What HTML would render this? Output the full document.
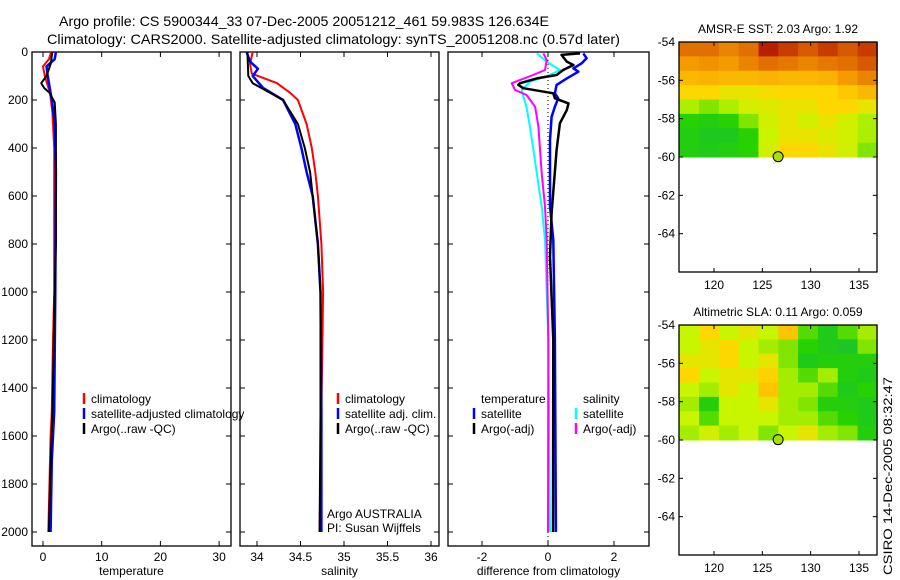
<!DOCTYPE html>
<html><head><meta charset="utf-8"><style>
html,body{margin:0;padding:0;background:#fff;}
svg{display:block;font-family:"Liberation Sans",sans-serif;}
text{font-size:12px;fill:#000;}
</style></head><body>
<svg id="chart" width="900" height="580" viewBox="0 0 900 580" xmlns="http://www.w3.org/2000/svg">
<text x="59" y="26" style="font-size:14px" textLength="490" lengthAdjust="spacingAndGlyphs">Argo profile: CS 5900344_33 07-Dec-2005 20051212_461 59.983S 126.634E</text>
<text x="47" y="44" style="font-size:14px" textLength="573" lengthAdjust="spacingAndGlyphs">Climatology: CARS2000. Satellite-adjusted climatology: synTS_20051208.nc (0.57d later)</text>
<g id="plots"></g>
<text transform="translate(892,575) rotate(-90)" style="font-size:12px" textLength="198" lengthAdjust="spacingAndGlyphs">CSIRO 14-Dec-2005 08:32:47</text>
</svg>
<script>
// ---- data ----
const depthTicks = [0,200,400,600,800,1000,1200,1400,1600,1800,2000];
const tempTicks = [0,10,20,30];
const salTicks = [34,34.5,35,35.5,36];
const diffTicks = [-2,0,2];
const tClimD = [0,30,60,100,140,170,250,400,1000,1200,1500,1600,1900,2000];
const tClimV = [1.4,1.0,0.0,0.3,0.8,1.2,1.6,1.9,1.9,1.7,1.5,1.3,1.0,0.9];
const tSatD = [0,30,60,100,200,300,500,1000,1500,1700,2000];
const tSatV = [2.2,2.0,0.6,0.8,1.5,2.0,2.2,2.1,1.9,1.5,1.3];
const tArgoD = [0,50,100,130,150,170,210,300,800,1000,1500,1800,2000];
const tArgoV = [1.6,1.3,0.6,-0.3,0.2,1.1,2.0,2.2,2.2,2.0,1.6,1.2,1.0];
const sClimD = [0,50,90,130,170,200,300,400,500,600,800,1000,1500,2000];
const sClimV = [33.95,33.92,33.94,34.23,34.38,34.47,34.57,34.63,34.67,34.70,34.74,34.76,34.74,34.72];
const sSatD = [0,40,70,100,150,200,300,400,500,600,800,1000,1500,2000];
const sSatV = [33.88,33.92,34.01,33.95,34.07,34.30,34.44,34.51,34.57,34.64,34.70,34.73,34.74,34.74];
const sArgoD = [0,100,130,160,200,300,400,500,600,800,1000,1500,2000];
const sArgoV = [33.89,33.90,33.95,34.10,34.30,34.47,34.55,34.61,34.64,34.70,34.73,34.73,34.72];
const dTArgoD = [6,12,40,54,75,96,110,130,137,151,172,193,214,242,297,408,671,853,1200,2000];
const dTArgoV = [0.97,0.41,0.57,0.77,0.46,0.26,-0.34,-0.85,-0.9,-0.75,0.16,0.21,0.62,0.57,0.36,0.26,0.11,0.06,0.16,0.15];
const dTSatD = [6,26,47,68,82,110,137,172,193,228,270,367,644,783,1200,2000];
const dTSatV = [1.07,1.17,1.02,0.77,0.92,0.57,0.26,0.21,0.31,0.21,0.11,0.06,0.06,0.16,0.21,0.24];
const dSSatD = [6,40,75,96,124,158,186,228,311,506,644,783,1200,2000];
const dSSatV = [-0.34,-0.04,0.36,0.06,-0.55,-0.8,-0.75,-0.65,-0.55,-0.34,-0.19,-0.09,0.01,0.06];
const dSArgoD = [6,33,75,96,130,158,179,228,311,506,644,783,1200,2000];
const dSArgoV = [-0.14,-0.04,-0.09,-0.45,-1.1,-1.0,-0.65,-0.39,-0.29,-0.19,-0.09,-0.04,0.01,0.0];
const latTicks = [-54,-56,-58,-60,-62,-64];
const lonTicks = [120,125,130,135];
const sstGrid = [
[.8,.8,.75,.8,.95,.9,.85,.9,.85,.9],
[.7,.72,.7,.75,.8,.78,.75,.78,.8,.85],
[.6,.62,.6,.6,.62,.6,.6,.62,.7,.75],
[.5,.5,.45,.45,.48,.5,.5,.5,.55,.6],
[.35,.3,.35,.4,.42,.45,.45,.5,.5,.45],
[.2,.15,.2,.3,.4,.45,.4,.45,.4,.35],
[.15,.1,.1,.2,.38,.45,.45,.42,.4,.35],
[.15,.12,.15,.2,.4,.5,.5,.45,.4,.3]];
const slaGrid = [
[.38,.5,.38,.44,.38,.56,.25,.12,.25,.34],
[.38,.44,.5,.38,.34,.3,.2,.12,.08,.3],
[.44,.44,.5,.38,.44,.3,.12,.16,.16,.16],
[.5,.38,.44,.44,.52,.34,.25,.34,.16,.12],
[.38,.34,.44,.38,.56,.34,.34,.25,.12,.2],
[.34,.16,.38,.38,.44,.34,.3,.16,.16,.12],
[.38,.25,.38,.38,.38,.34,.34,.25,.2,.12],
[.34,.4,.34,.38,.3,.38,.44,.34,.3,.16]];
const profLon = 126.634, profLat = -59.983;

// ---- drawing ----
const NS='http://www.w3.org/2000/svg';
const root=document.getElementById('plots');
function el(tag,attrs,parent){const e=document.createElementNS(NS,tag);for(const k in attrs)e.setAttribute(k,attrs[k]);(parent||root).appendChild(e);return e;}
function lin(d0,d1,r0,r1){return v=>r0+(v-d0)*(r1-r0)/(d1-d0);}
const TOP=52,BOT=546;
const yD=lin(0,2000,52,532);

function panel(name,x0,x1,xs,ticks,label,yLabels){
  const g=el('g',{});
  
  
  const r=el('rect',{x:x0,y:TOP,width:x1-x0,height:BOT-TOP,fill:'none',stroke:'#000','stroke-width':1.3},g);
  
  
  depthTicks.forEach(d=>{
    const y=yD(d);
    el('line',{x1:x0,x2:x0+5,y1:y,y2:y,stroke:'#000'},g);
    el('line',{x1:x1-5,x2:x1,y1:y,y2:y,stroke:'#000'},g);
    if(yLabels){const t=el('text',{x:x0-4,y:y+4,'text-anchor':'end'},g);t.textContent=d;
      
      }
  });
  ticks.forEach(v=>{
    const x=xs(v);
    el('line',{x1:x,x2:x,y1:TOP,y2:TOP+5,stroke:'#000'},g);
    el('line',{x1:x,x2:x,y1:BOT-5,y2:BOT,stroke:'#000'},g);
    const t=el('text',{x:x,y:BOT+15,'text-anchor':'middle'},g);t.textContent=v;
    
    
  });
  const t=el('text',{x:(x0+x1)/2,y:BOT+29,'text-anchor':'middle'},g);t.textContent=label;
  
  
  return g;
}
function series(g,name,xs,ds,vs,color,w){
  const pts=ds.map((d,i)=>xs(vs[i]).toFixed(1)+','+yD(d).toFixed(1)).join(' ');
  const p=el('polyline',{points:pts,fill:'none',stroke:color,'stroke-width':w,'stroke-linejoin':'round'},g);
  
  
}
function legend(g,x,y,color,label,name){
  if(color){const m=el('line',{x1:x,x2:x,y1:y-10,y2:y+1,stroke:color,'stroke-width':2.5},g);
    
    }
  const t=el('text',{x:x+7,y:y},g);t.textContent=label;
  
  
}

// temperature panel
const xT=lin(0,10,43,101.7);
const gT=panel('temperature-panel',32,231,xT,tempTicks,'temperature',true);
series(gT,'temp-climatology-line',xT,tClimD,tClimV,'#ff0000',2);
series(gT,'temp-satellite-line',xT,tSatD,tSatV,'#0000ff',2.5);
series(gT,'temp-argo-line',xT,tArgoD,tArgoV,'#000000',2);
legend(gT,84,403,'#ff0000','climatology','legend-climatology');
legend(gT,84,418,'#0000ff','satellite-adjusted climatology','legend-satellite');
legend(gT,84,433,'#000000','Argo(..raw -QC)','legend-argo');

// salinity panel
const xS=lin(34,35,257,344);
const gS=panel('salinity-panel',240,439,xS,salTicks,'salinity',false);
series(gS,'sal-climatology-line',xS,sClimD,sClimV,'#ff0000',2);
series(gS,'sal-satellite-line',xS,sSatD,sSatV,'#0000ff',2.5);
series(gS,'sal-argo-line',xS,sArgoD,sArgoV,'#000000',2);
legend(gS,338,403,'#ff0000','climatology','legend-sal-climatology');
legend(gS,338,418,'#0000ff','satellite adj. clim.','legend-sal-satellite');
legend(gS,338,433,'#000000','Argo(..raw -QC)','legend-sal-argo');
legend(gS,320,518,null,'Argo AUSTRALIA','float-owner-label');
legend(gS,320,532,null,'PI: Susan Wijffels','pi-label');

// difference panel
const xDf=lin(0,2,548,614);
const gD=panel('difference-panel',448,649,xDf,diffTicks,'difference from climatology',false);
el('line',{x1:xDf(0),x2:xDf(0),y1:TOP,y2:BOT,stroke:'#000','stroke-dasharray':'1,3'},gD);
series(gD,'diff-sal-satellite-line',xDf,dSSatD,dSSatV,'#00ffff',2);
series(gD,'diff-sal-argo-line',xDf,dSArgoD,dSArgoV,'#ff00ff',2);
series(gD,'diff-temp-satellite-line',xDf,dTSatD,dTSatV,'#0000ff',2.5);
series(gD,'diff-temp-argo-line',xDf,dTArgoD,dTArgoV,'#000000',2.5);
legend(gD,474,403,null,'temperature','legend-temperature-heading');
legend(gD,474,418,'#0000ff','satellite','legend-temp-satellite');
legend(gD,474,433,'#000000','Argo(-adj)','legend-temp-argo');
legend(gD,576,403,null,'salinity','legend-salinity-heading');
legend(gD,576,418,'#00ffff','satellite','legend-sal-satellite-diff');
legend(gD,576,433,'#ff00ff','Argo(-adj)','legend-sal-argo-diff');

// maps
function cmap(v){
  const stops=[[0,[20,190,60]],[0.2,[40,210,0]],[0.38,[200,245,0]],[0.5,[255,215,0]],[0.7,[245,155,0]],[0.85,[215,90,0]],[1,[170,0,0]]];
  for(let i=1;i<stops.length;i++){if(v<=stops[i][0]){const a=stops[i-1],b=stops[i];const f=(v-a[0])/(b[0]-a[0]);
    return 'rgb('+a[1].map((c,k)=>Math.round(c+(b[1][k]-c)*f)).join(',')+')';}}
  return 'rgb(170,0,0)';
}
function map(name,top,grid,title){
  const x0=679,x1=877,bot=top+230;
  const xL=lin(120,135,714,859), yL=lin(-54,-66,top,bot);
  const g=el('g',{});
  
  
  const rows=grid.length,cols=grid[0].length;
  const lonStep=(136.9-116.4)/cols, latStep=6/rows;
  grid.forEach((row,ri)=>row.forEach((v,ci)=>{
    const xa=xL(116.4+ci*lonStep), xb=xL(116.4+(ci+1)*lonStep);
    const ya=yL(-54-ri*latStep), yb=yL(-54-(ri+1)*latStep);
    const c=el('rect',{x:xa,y:ya,width:xb-xa+0.5,height:yb-ya+0.5,fill:cmap(v)},g);
    
    
  }));
  const fr=el('rect',{x:x0,y:top,width:x1-x0,height:bot-top,fill:'none',stroke:'#000','stroke-width':1.3},g);
  
  
  latTicks.forEach(la=>{const y=yL(la);
    el('line',{x1:x0,x2:x0+4,y1:y,y2:y,stroke:'#000'},g);
    el('line',{x1:x1-4,x2:x1,y1:y,y2:y,stroke:'#000'},g);
    const t=el('text',{x:x0-4,y:y+4,'text-anchor':'end'},g);t.textContent=la;
    
    });
  lonTicks.forEach(lo=>{const x=xL(lo);
    el('line',{x1:x,x2:x,y1:top,y2:top+4,stroke:'#000'},g);
    el('line',{x1:x,x2:x,y1:bot-4,y2:bot,stroke:'#000'},g);
    const t=el('text',{x:x,y:bot+17,'text-anchor':'middle'},g);t.textContent=lo;
    
    });
  const c=el('circle',{cx:xL(profLon),cy:yL(profLat),r:5,fill:'#a8e000',stroke:'#000'},g);
  
  
  const t=el('text',{x:(x0+x1)/2,y:top-9,'text-anchor':'middle'},g);t.textContent=title;
  
  
}
map('sst-map',42,sstGrid,'AMSR-E SST: 2.03 Argo: 1.92');
map('sla-map',325,slaGrid,'Altimetric SLA: 0.11  Argo: 0.059');
</script>
</body></html>
